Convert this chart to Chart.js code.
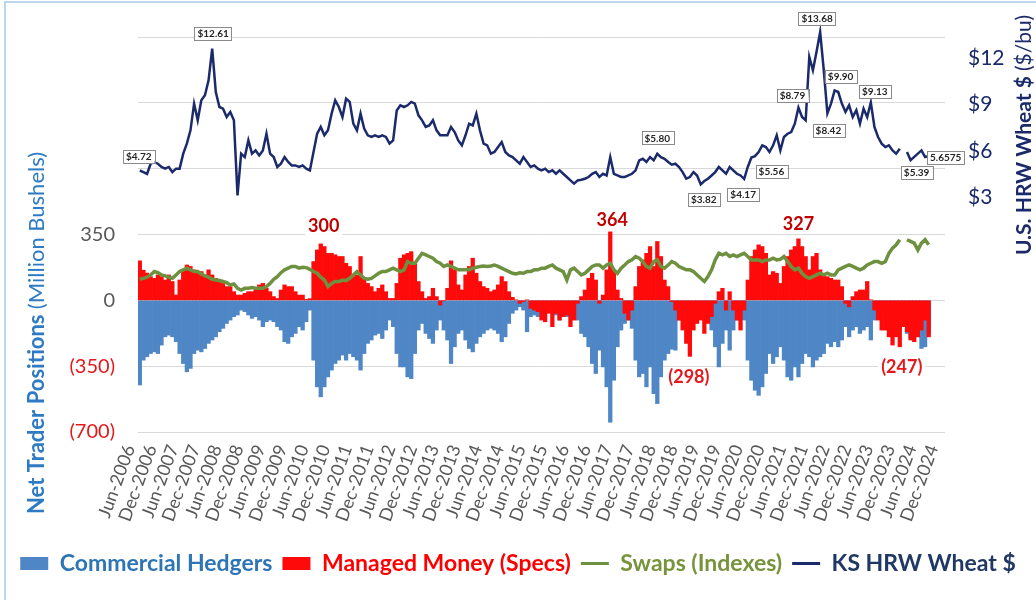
<!DOCTYPE html>
<html>
<head>
<meta charset="utf-8">
<title>KS HRW Wheat - Net Trader Positions</title>
<script src="https://cdn.jsdelivr.net/npm/chart.js@4.4.1/dist/chart.umd.min.js"></script>
<style>
  html, body { margin: 0; padding: 0; background: #fff; }
  #wrap { position: relative; width: 1036px; height: 600px; overflow: hidden; }
  #frame { position: absolute; left: 4px; top: 1px; width: 1100px; height: 700px; border: 2px solid #bcd6ee; box-sizing: border-box; }
  #chart { position: absolute; left: 0; top: 0; }
</style>
</head>
<body>
<div id="wrap">
  <div id="frame"></div>
  <canvas id="chart" width="1036" height="600"></canvas>
</div>
<script>
// monthly categories, Jun-2006 .. Dec-2024
const monthNames = ['Jan', 'Feb', 'Mar', 'Apr', 'May', 'Jun', 'Jul', 'Aug', 'Sep', 'Oct', 'Nov', 'Dec'];
const months = [];
for (let i = 0; i < 223; i++) {
  const m = (5 + i) % 12;
  months.push(monthNames[m] + '-' + (2006 + Math.floor((5 + i) / 12)));
}

// KS HRW wheat, $/bu (right axis)
const wheatPrice = [
  4.72, 4.62, 4.50, 5.16, 5.27, 5.16, 4.95, 4.84, 4.95, 4.62,
  4.84, 4.84, 5.81, 6.46, 7.32, 9.05, 7.97, 9.26, 9.59, 10.56,
  12.61, 9.80, 8.83, 8.72, 8.18, 8.50, 7.97, 3.11, 5.81, 5.59,
  6.67, 5.81, 6.02, 5.70, 6.02, 7.10, 5.81, 5.59, 4.95, 5.16,
  5.59, 5.27, 5.05, 5.05, 4.95, 5.05, 4.84, 4.73, 5.92, 7.10,
  7.54, 7.00, 7.32, 8.40, 9.26, 8.83, 8.18, 9.37, 9.16, 7.75,
  7.32, 8.40, 7.43, 7.00, 6.89, 7.00, 6.89, 7.00, 6.89, 6.46,
  6.67, 8.60, 8.94, 8.83, 8.94, 9.16, 9.05, 8.29, 7.97, 7.54,
  7.64, 7.97, 7.32, 7.00, 7.00, 7.00, 7.54, 7.21, 6.67, 6.35,
  7.00, 7.75, 7.64, 8.40, 7.32, 6.46, 6.35, 5.81, 5.92, 6.24,
  6.56, 5.92, 5.70, 5.59, 5.38, 5.16, 5.59, 5.27, 4.95, 5.05,
  4.84, 4.73, 4.84, 4.62, 4.73, 4.51, 4.73, 4.51, 4.30, 4.08,
  3.87, 4.08, 4.12, 4.19, 4.30, 4.51, 4.62, 4.30, 4.51, 4.40,
  5.59, 4.51, 4.40, 4.30, 4.30, 4.40, 4.51, 4.73, 5.38, 5.48,
  5.27, 5.59, 5.38, 5.80, 5.59, 5.48, 5.27, 5.10, 5.16, 4.95,
  4.62, 4.19, 4.30, 4.62, 4.40, 3.82, 4.04, 4.19, 4.40, 4.62,
  4.95, 4.73, 4.51, 4.95, 4.73, 4.51, 4.40, 4.17, 4.95, 5.56,
  5.65, 5.92, 6.35, 6.24, 5.92, 6.35, 7.00, 6.02, 6.89, 7.10,
  7.21, 7.75, 8.79, 8.18, 7.97, 12.07, 11.21, 12.40, 13.68, 11.21,
  8.42, 9.05, 9.90, 9.80, 9.05, 8.51, 8.94, 8.18, 8.62, 7.75,
  8.72, 8.18, 9.13, 7.54, 6.89, 6.46, 6.24, 6.35, 6.02, 5.81,
  6.13, null, 5.92, 5.39, 5.60, 5.81, 6.02, 5.59, 5.6575, null,
  null, null, null
];

// net positions, million bushels (left axis)
const managedMoney = [
  210, 160, 145, 126, 117, 135, 126, 108, 135, 100,
  28, 108, 162, 188, 180, 162, 153, 153, 135, 162,
  135, 117, 100, 90, 73, 73, 46, 28, 28, 37,
  46, 46, 55, 82, 90, 64, 46, 20, 10, 55,
  82, 73, 73, 46, 28, 28, 5, 9, 206, 268,
  300, 286, 250, 250, 242, 233, 233, 197, 180, 126,
  135, 233, 117, 90, 73, 46, 64, 82, 46, 10,
  10, 90, 224, 242, 250, 259, 197, 100, 46, 10,
  20, 64, 20, -25, 0, 64, 210, 162, 82, 55,
  135, 180, 224, 144, 100, 73, 64, 46, 55, 82,
  126, 100, 46, 16, 2, -16, -7, 2, -43, -52,
  -60, -105, -114, -69, -140, -69, -105, -87, -78, -140,
  -105, -16, 20, 55, 117, 144, 108, -16, 28, 162,
  364, 162, 55, 10, -69, -105, -52, 73, 180, 215,
  250, 286, 180, 313, 233, 108, 73, -7, -52, -105,
  -158, -229, -298, -158, -123, -105, -176, -123, -87, -16,
  46, 64, -52, 46, -52, -105, -158, -52, 108, 233,
  268, 295, 286, 250, 135, 153, 144, 90, 180, 233,
  268, 286, 327, 286, 233, 162, 233, 250, 162, 144,
  126, 117, 108, 108, 73, -16, -34, 20, 46, 55,
  55, 100, 2, -52, -105, -158, -158, -194, -238, -194,
  -247, -140, -167, -211, -220, -194, -158, -105, -194, null,
  null, null, null
];

const commercial = [
  -450, -318, -300, -283, -274, -283, -238, -194, -185, -194,
  -220, -283, -336, -380, -362, -283, -265, -274, -256, -229,
  -211, -194, -167, -149, -123, -105, -87, -78, -52, -60,
  -78, -96, -87, -105, -140, -114, -105, -114, -140, -158,
  -220, -229, -194, -176, -140, -158, -114, -52, -318, -460,
  -513, -460, -407, -371, -336, -318, -291, -318, -283, -300,
  -318, -371, -283, -229, -211, -185, -176, -203, -158, -105,
  -140, -283, -354, -354, -407, -416, -283, -158, -123, -176,
  -203, -229, -158, -105, -158, -211, -336, -247, -176, -158,
  -211, -256, -274, -229, -194, -176, -158, -149, -158, -176,
  -220, -194, -123, -69, -52, -34, -52, -167, -87, -78,
  -87, -52, -43, -34, -43, -78, -105, -87, -87, -52,
  -34, -105, -176, -194, -247, -336, -389, -265, -354, -460,
  -648, -425, -247, -158, -123, -105, -149, -318, -407, -389,
  -460, -354, -496, -549, -407, -318, -283, -260, -265, -105,
  -69, -52, -34, -69, -34, -52, -69, -105, -158, -247,
  -354, -229, -158, -265, -158, -105, -69, -105, -318, -425,
  -478, -505, -460, -389, -283, -336, -300, -247, -318, -407,
  -425, -354, -407, -336, -283, -300, -354, -318, -300, -283,
  -229, -247, -220, -247, -211, -140, -194, -158, -140, -176,
  -158, -140, -211, -105, -87, -60, -69, -87, -105, -158,
  -158, -123, -176, -203, -185, -194, -256, -247, -176, null,
  null, null, null
];

const swaps = [
  112, 117, 123, 135, 153, 147, 135, 130, 123, 117,
  135, 153, 162, 171, 162, 153, 153, 140, 130, 123,
  112, 108, 105, 100, 94, 82, 87, 64, 55, 64,
  64, 68, 64, 64, 64, 73, 90, 112, 126, 147,
  162, 171, 180, 180, 171, 176, 174, 165, 153, 144,
  123, 108, 73, 90, 100, 100, 108, 105, 117, 135,
  153, 135, 117, 112, 117, 130, 144, 153, 153, 162,
  171, 162, 153, 162, 206, 197, 197, 224, 250, 242,
  233, 224, 206, 197, 180, 188, 180, 171, 162, 162,
  162, 162, 171, 176, 180, 183, 180, 183, 188, 180,
  171, 162, 153, 144, 140, 147, 144, 153, 153, 162,
  162, 171, 171, 180, 188, 171, 162, 153, 108, 162,
  171, 153, 135, 144, 162, 180, 188, 188, 171, 188,
  197, 162, 144, 171, 188, 206, 215, 233, 224, 206,
  180, 171, 206, 215, 180, 171, 188, 206, 197, 180,
  171, 162, 162, 153, 135, 117, 100, 126, 162, 215,
  250, 242, 250, 233, 242, 233, 242, 250, 233, 215,
  215, 215, 206, 215, 215, 224, 215, 218, 233, 206,
  180, 162, 171, 144, 126, 117, 126, 135, 144, 135,
  144, 135, 135, 162, 171, 180, 188, 180, 171, 162,
  171, 188, 197, 206, 206, 197, 206, 250, 277, 295,
  322, null, 322, 313, 304, 268, 304, 322, 295, null,
  null, null, null
];

// axis ticks
const positionTicks = [-700, -350, 0, 350, 700, 1050, 1400];
const priceTicks = [3, 6, 9, 12];

// callouts on the price line
const priceNoteText = ['$4.72', '$12.61', '$5.80', '$3.82', '$4.17', '$5.56', '$8.79', '$13.68', '$8.42', '$9.90', '$9.13', '$5.39', '5.6575'];
const priceNoteIdx = [0, 20, 143, 155, 167, 169, 182, 188, 190, 192, 202, 213, 218];
// callouts on the managed money bars
const mmNoteText = ['300', '364', '327', '(298)', '(247)'];
const mmNoteIdx = [50, 130, 182, 152, 210];

// label placement, px from the point
const priceNoteShift = [[-1, -14], [1, -15], [0, -16], [3, 15], [-1, 15], [20, 14], [-6, -12], [-3, -14], [1, 17], [6, -14], [4, -11], [6, 12], [17, 1]];
const mmNoteShift = [[3, -18], [2, -12], [0, -15], [-1, 21], [2, 20]];

const FONT = 'Lato, "Open Sans", sans-serif';
const NAVY = '#1b2a6b';
const BLUE = '#4f86c6';
const RED = '#ff0a0a';
const GREEN = '#6e9140';

function drawTitle(c, x, y, parts, size, color) {
  c.save();
  c.translate(x, y);
  c.rotate(-Math.PI / 2);
  c.fillStyle = color;
  c.textBaseline = 'middle';
  c.textAlign = 'left';
  const widths = parts.map(p => { c.font = p[1] + ' ' + size + 'px ' + FONT; return c.measureText(p[0]).width; });
  let cx = -widths.reduce((a, b) => a + b, 0) / 2;
  parts.forEach((p, k) => {
    c.font = p[1] + ' ' + size + 'px ' + FONT;
    c.fillText(p[0], cx, 0);
    cx += widths[k];
  });
  c.restore();
}

const titlesPlugin = {
  id: 'titles',
  afterDraw(chart) {
    const c = chart.ctx;
    drawTitle(c, 37, 333, [['Net Trader Positions ', 'bold'], ['(Million Bushels)', 'normal']], 22, '#2e7bc4');
    drawTitle(c, 1024, 135, [['U.S. HRW Wheat $ ', 'bold'], ['($/bu)', 'normal']], 21, NAVY);
  }
};

function mmNoteBoxes(chart) {
  const c = chart.ctx, xs = chart.scales.x, ys = chart.scales.y;
  c.font = 'bold 18px ' + FONT;
  return mmNoteText.map((t, k) => {
    const i = mmNoteIdx[k];
    return {
      t, neg: managedMoney[i] < 0,
      x: xs.getPixelForValue(i) + mmNoteShift[k][0],
      y: ys.getPixelForValue(managedMoney[i]) + mmNoteShift[k][1],
      w: c.measureText(t).width + 6
    };
  });
}

const notesPlugin = {
  id: 'notes',
  beforeDatasetsDraw(chart) {
    const c = chart.ctx;
    c.save();
    c.fillStyle = '#fff';
    mmNoteBoxes(chart).forEach(b => c.fillRect(b.x - b.w / 2, b.y - 9, b.w, 18));
    c.restore();
  },
  afterDatasetsDraw(chart) {
    const c = chart.ctx, xs = chart.scales.x, yp = chart.scales.yPrice;
    c.save();
    c.textAlign = 'center';
    c.textBaseline = 'middle';
    c.font = 'bold 10px ' + FONT;
    priceNoteText.forEach((t, k) => {
      const i = priceNoteIdx[k];
      const px = xs.getPixelForValue(i) + priceNoteShift[k][0];
      const py = yp.getPixelForValue(wheatPrice[i]) + priceNoteShift[k][1];
      const w = c.measureText(t).width + 6, h = 13;
      c.fillStyle = '#fff';
      c.fillRect(px - w / 2, py - h / 2, w, h);
      c.strokeStyle = '#8a8a8a';
      c.lineWidth = 1;
      c.strokeRect(Math.round(px - w / 2) + 0.5, Math.round(py - h / 2) + 0.5, Math.round(w), h);
      c.fillStyle = '#262626';
      c.fillText(t, px, py + 0.5);
    });
    c.font = 'bold 18px ' + FONT;
    mmNoteBoxes(chart).forEach(b => {
      c.fillStyle = b.neg ? '#e3191c' : '#c00000';
      c.fillText(b.t, b.x, b.y);
    });
    c.restore();
  }
};

const legendOrder = [3, 2, 1, 0];
const legendColors = ['#1f3864', '#77933c', '#ff0000', '#2e75b6'];

new Chart(document.getElementById('chart').getContext('2d'), {
  type: 'bar',
  data: {
    labels: months,
    datasets: [
      {
        type: 'line', label: 'KS HRW Wheat $', data: wheatPrice, yAxisID: 'yPrice',
        borderColor: NAVY, backgroundColor: NAVY, borderWidth: 2.5, pointRadius: 0,
        tension: 0, spanGaps: false, clip: false, order: 0
      },
      {
        type: 'line', label: 'Swaps (Indexes)', data: swaps, yAxisID: 'y',
        borderColor: GREEN, backgroundColor: GREEN, borderWidth: 3.5, pointRadius: 0,
        tension: 0, spanGaps: false, order: 1
      },
      {
        label: 'Managed Money (Specs)', data: managedMoney, yAxisID: 'y',
        backgroundColor: RED, borderWidth: 0, grouped: false,
        barPercentage: 1, categoryPercentage: 1, order: 2
      },
      {
        label: 'Commercial Hedgers', data: commercial, yAxisID: 'y',
        backgroundColor: BLUE, borderWidth: 0, grouped: false,
        barPercentage: 1, categoryPercentage: 1, order: 3
      }
    ]
  },
  options: {
    responsive: false,
    animation: false,
    layout: { padding: { top: 37, left: 0, right: 0, bottom: 15 } },
    plugins: {
      tooltip: { enabled: false },
      legend: {
        position: 'bottom',
        labels: {
          usePointStyle: true,
          pointStyleWidth: 28,
          boxHeight: 13,
          padding: 10,
          font: { family: FONT, size: 23, weight: 'bold' },
          generateLabels(chart) {
            return legendOrder.map(i => {
              const ds = chart.data.datasets[i];
              const isLine = ds.type === 'line';
              return {
                text: ds.label,
                fillStyle: ds.backgroundColor,
                strokeStyle: isLine ? ds.borderColor : ds.backgroundColor,
                lineWidth: isLine ? 3 : 0,
                pointStyle: isLine ? 'line' : 'rect',
                fontColor: legendColors[i],
                datasetIndex: i,
                hidden: false
              };
            });
          }
        }
      }
    },
    scales: {
      x: {
        offset: true,
        grid: { display: false },
        border: { display: false },
        ticks: {
          autoSkip: false,
          minRotation: 70,
          maxRotation: 70,
          padding: 2,
          labelOffset: -10,
          color: '#595959',
          font: { family: FONT, size: 18 },
          callback(v) {
            const l = months[v];
            return (l.startsWith('Jun') || l.startsWith('Dec')) ? l : '';
          }
        },
        afterFit(s) { s.height = 110; }
      },
      y: {
        position: 'left',
        min: -700,
        max: 1400,
        grid: { color: '#d9d9d9', drawTicks: false },
        border: { display: false },
        afterBuildTicks(s) { s.ticks = positionTicks.map(v => ({ value: v })); },
        ticks: {
          padding: 23,
          font: { family: FONT, size: 20 },
          color: c => (c.tick && c.tick.value < 0) ? '#e3191c' : '#595959',
          callback: v => v > 350 ? '' : (v < 0 ? '(' + (-v) + ')' : String(v))
        },
        afterFit(s) { s.width = 138; }
      },
      yPrice: {
        position: 'right',
        min: -12.2,
        max: 13.36,
        grid: { display: false, drawTicks: false },
        border: { display: false },
        afterBuildTicks(s) { s.ticks = priceTicks.map(v => ({ value: v })); },
        ticks: {
          padding: 23,
          color: NAVY,
          font: { family: FONT, size: 21 },
          callback: v => '$' + v
        },
        afterFit(s) { s.width = 91; }
      }
    }
  },
  plugins: [notesPlugin, titlesPlugin]
});
</script>
</body>
</html>
